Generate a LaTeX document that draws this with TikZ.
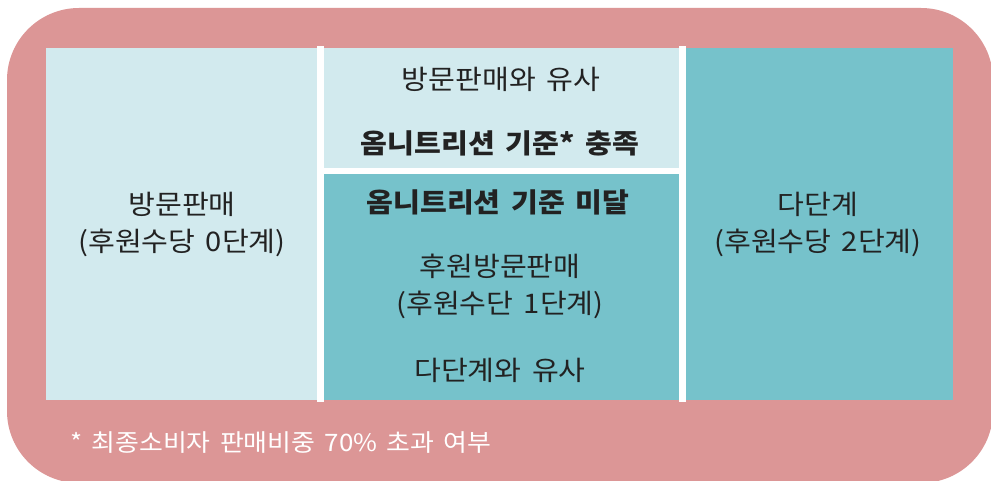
\documentclass[tikz,border=0pt]{standalone}
\usepackage{fontspec}
\setmainfont[FakeStretch=1.08,WordSpace=1.6]{Noto Sans CJK KR}
\definecolor{pinkbg}{RGB}{220,150,150}
\definecolor{lightcyan}{RGB}{210,234,238}
\definecolor{tealbox}{RGB}{118,194,203}
\definecolor{txt}{RGB}{34,34,34}
\begin{document}
\begin{tikzpicture}[x=1pt,y=-1pt,
  lbl/.style={text=txt,font=\fontsize{27}{37}\selectfont,align=center,inner sep=0pt},
  blbl/.style={lbl,font=\fontsize{27}{37}\selectfont\bfseries},
  panel/.style={draw=none}]
\useasboundingbox (0,0) rectangle (991,481);
\fill[white] (0,0) rectangle (991,481);
\fill[pinkbg,rounded corners=72pt] (7,8) rectangle (993,483);
% panels
\fill[lightcyan] (46,48) rectangle (320,400);
\fill[lightcyan] (320,48) rectangle (682,171);
\fill[tealbox] (320,171) rectangle (682,400);
\fill[tealbox] (682,48) rectangle (953,400);
% white dividers
\fill[white] (317,46) rectangle (324,402);
\fill[white] (679,46) rectangle (686,402);
\fill[white] (317,168) rectangle (686,174);
% texts
\node[lbl] (l1) at (182,224) {방문판매\\(후원수당 0단계)};
\node[lbl] (m1) at (501,79) {방문판매와 유사};
\node[blbl] (m2) at (500,143) {옴니트리션 기준* 충족};
\node[blbl] (m3) at (498,202) {옴니트리션 기준 미달};
\node[lbl] (m4) at (500,286) {후원방문판매\\(후원수단 1단계)};
\node[lbl] (m5) at (500,370) {다단계와 유사};
\node[lbl] (r1) at (818,224) {다단계\\(후원수당 2단계)};
\node[lbl,text=white,anchor=west,font=\fontsize{24}{37}\selectfont] (fn) at (70,443) {* 최종소비자 판매비중 70\% 초과 여부};
\end{tikzpicture}
\end{document}
